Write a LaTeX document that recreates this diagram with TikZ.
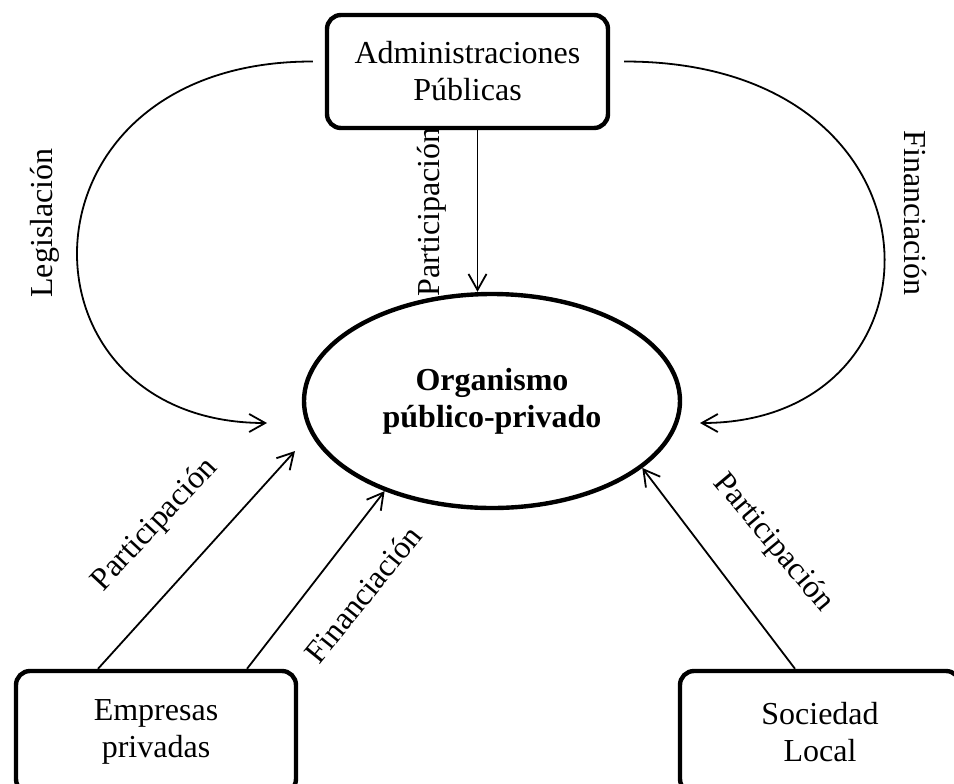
\documentclass[tikz,border=0pt]{standalone}
\usepackage{fontspec}
\setmainfont{Liberation Serif}
\usetikzlibrary{arrows.meta,shapes.geometric}

\begin{document}
\begin{tikzpicture}[x=0.5pt,y=-0.5pt,>={Straight Barb[length=8pt,width=9pt]},
  actor/.style={draw,line width=2.2pt,rounded corners=7pt,align=center,inner sep=0pt,
    minimum width=140pt,minimum height=61pt,font=\fontsize{16}{18.5}\selectfont},
  flow/.style={->,line width=0.9pt},
  lbl/.style={font=\fontsize{16}{18.5}\selectfont,inner sep=0pt}]
  \useasboundingbox (0,0) rectangle (954,783);
  \node[actor,minimum width=140.5pt,minimum height=56.5pt] (adm) at (467.5,71.5) {Administraciones\\Públicas};
  \node[actor] (emp) at (156,732) {Empresas\\privadas};
  \node[actor] (soc) at (820,732) {Sociedad\\Local};
  \node[draw,ellipse,line width=2.2pt,minimum width=188pt,minimum height=107pt,inner sep=0pt,
    align=center,font=\fontsize{16}{18.5}\selectfont\bfseries] (org) at (492,401) {Organismo\\público-privado};
  \coordinate (legend) at (267,423);
  \coordinate (finend) at (700,423);
  \coordinate (partend) at (295,451);
  \draw[flow] ([xshift=-6pt,yshift=5pt]adm.west) .. controls (7,61) and (7,423) .. (legend);
  \draw[flow] ([xshift=7pt,yshift=5pt]adm.east) .. controls (957,61) and (957,423) .. (finend);
  \draw[flow] ([xshift=5pt]adm.south) -- ([xshift=5pt]adm.south |- org.north);
  \draw[flow] ([xshift=-29pt]emp.north) -- (partend);
  \draw[flow] ([xshift=45.5pt]emp.north) -- (org.220);
  \draw[flow] ([xshift=-12.5pt]soc.north) -- (org.336);
  \node[lbl,rotate=90] (leglbl) at (45,223) {Legislación};
  \node[lbl,rotate=90] (partlbl) at (432,212) {Participación};
  \node[lbl,rotate=-90] (finlbl) at (915,213) {Financiación};
  \node[lbl,rotate=47] (emppart) at (155,525) {Participación};
  \node[lbl,rotate=51] (empfin) at (363,594) {Financiación};
  \node[lbl,rotate=-50] (socpart) at (773,543) {Participación};
\end{tikzpicture}
\end{document}
